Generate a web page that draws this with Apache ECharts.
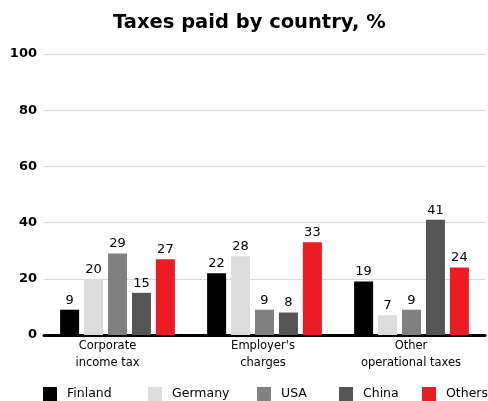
<!DOCTYPE html>
<html><head><meta charset="utf-8">
<script src="https://cdn.jsdelivr.net/npm/echarts@6/dist/echarts.min.js"></script>
<style>html,body{margin:0;padding:0;background:#fff}#c{width:488px;height:401px}</style>
</head><body><div id="c"></div>
<script>
const categories = ["Corporate\nincome tax", "Employer's\ncharges", "Other\noperational taxes"];
const finland = [9, 22, 19];
const germany = [20, 28, 7];
const usa = [29, 9, 9];
const china = [15, 8, 41];
const others = [27, 33, 24];
const yTicks = [0, 20, 40, 60, 80, 100];
const seriesNames = ["Finland", "Germany", "USA", "China", "Others"];
const colors = ["#000000", "#dcdcdc", "#808080", "#555555", "#ed1c24"];
const FONT = "DejaVu Sans";
const legendLefts = [43, 148, 257, 339, 422];
const labelShift = [20, 3, 1];
const chart = echarts.init(document.getElementById('c'), null, {renderer: 'canvas'});
const data = [finland, germany, usa, china, others];
chart.setOption({
  animation: false,
  title: {text: "Taxes paid by country, %", left: 108, top: 8,
    textStyle: {fontFamily: FONT, fontSize: 19.5, fontWeight: 'bold', color: '#000'}},
  grid: {left: 44, right: 3, top: 54, bottom: 66, containLabel: false},
  legend: seriesNames.map((n, i) => ({
    top: 387, left: legendLefts[i], padding: 0, itemWidth: 14, itemHeight: 14, itemGap: 0,
    icon: 'rect', data: [n],
    textStyle: {fontFamily: FONT, fontSize: 12.5, color: '#000', padding: [3,0,0,5]}})),
  xAxis: {type: 'category',
    data: categories.map((c, i) => ({value: c, textStyle: {padding: [0, labelShift[i], 0, 0]}})),
    axisLine: {lineStyle: {color: '#000', width: 3}},
    axisTick: {show: false},
    axisLabel: {fontFamily: FONT, fontSize: 11.5, color: '#000', lineHeight: 17, margin: 3}},
  yAxis: {type: 'value', min: yTicks[0], max: yTicks[yTicks.length-1], interval: 20,
    axisLine: {show: false}, axisTick: {show: false},
    splitLine: {lineStyle: {color: '#d9d9d9', width: 1}},
    axisLabel: {fontFamily: FONT, fontSize: 13, fontWeight: 'bold', color: '#000', margin: 7}},
  series: seriesNames.map((n, i) => ({
    name: n, type: 'bar', data: data[i], barWidth: 19, barGap: '26%',
    itemStyle: {color: colors[i]},
    label: {show: true, position: 'top', distance: 3, fontFamily: FONT, fontSize: 13, color: '#000'}
  }))
});
</script></body></html>
